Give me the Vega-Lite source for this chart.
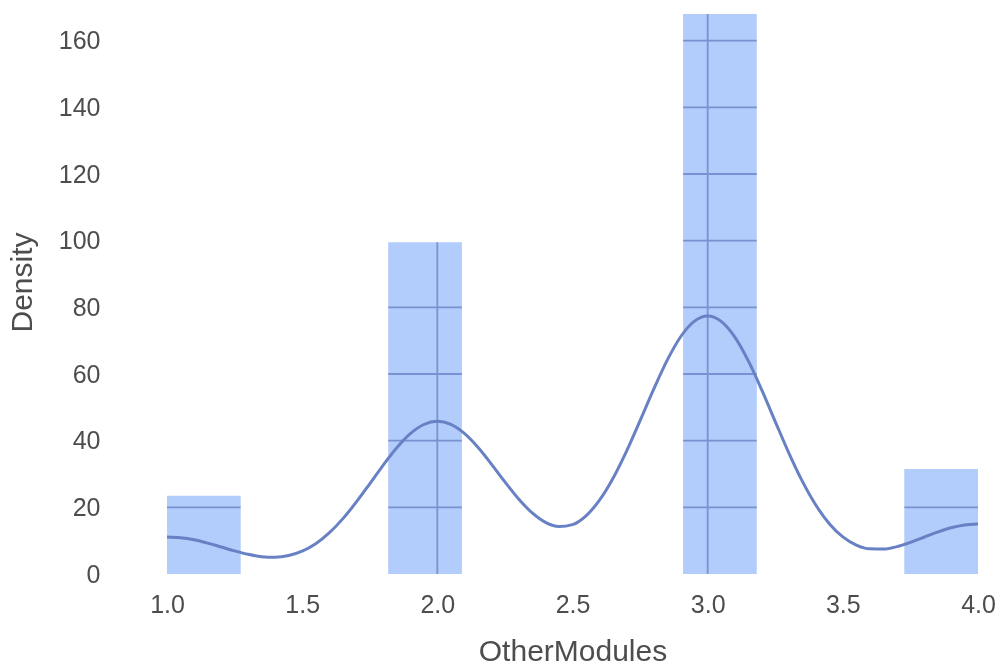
{
  "$schema": "https://vega.github.io/schema/vega-lite/v6.json",
  "width": 811,
  "height": 560,
  "autosize": {"type": "none"},
  "padding": {"left": 167, "top": 14, "right": 25, "bottom": 91},
  "background": "white",
  "config": {
    "view": {"stroke": null, "fill": "white"},
    "axis": {
      "grid": false, "domain": false, "ticks": false, "tickSize": 0,
      "labelFont": "Liberation Sans", "labelFontSize": 25, "labelColor": "#4d4d4d",
      "titleFont": "Liberation Sans", "titleFontSize": 30, "titleFontWeight": "normal", "titleColor": "#4d4d4d"
    }
  },
  "datasets": {
    "bars": [
      {"bin_start": 1.0, "bin_end": 1.2727, "density": 23.5},
      {"bin_start": 1.8182, "bin_end": 2.0909, "density": 99.5},
      {"bin_start": 2.9091, "bin_end": 3.1818, "density": 168},
      {"bin_start": 3.7273, "bin_end": 4.0, "density": 31.5}
    ],
    "hgrid": [{"v": 20}, {"v": 40}, {"v": 60}, {"v": 80}, {"v": 100}, {"v": 120}, {"v": 140}, {"v": 160}],
    "vgrid": [{"v": 2.0, "top": 99.5}, {"v": 3.0, "top": 168}],
    "kde": [
      {"x": 1.00, "y": 11.11}, {"x": 1.05, "y": 10.89}, {"x": 1.10, "y": 10.25}, {"x": 1.15, "y": 9.27},
      {"x": 1.20, "y": 8.11}, {"x": 1.25, "y": 6.93}, {"x": 1.30, "y": 5.90}, {"x": 1.35, "y": 5.21},
      {"x": 1.40, "y": 5.03}, {"x": 1.45, "y": 5.54}, {"x": 1.50, "y": 6.85}, {"x": 1.55, "y": 9.10},
      {"x": 1.60, "y": 12.35}, {"x": 1.65, "y": 16.54}, {"x": 1.70, "y": 21.55}, {"x": 1.75, "y": 27.07},
      {"x": 1.80, "y": 32.69}, {"x": 1.85, "y": 37.87}, {"x": 1.90, "y": 42.09}, {"x": 1.95, "y": 44.85},
      {"x": 2.00, "y": 45.82}, {"x": 2.05, "y": 44.88}, {"x": 2.10, "y": 42.16}, {"x": 2.15, "y": 38.02},
      {"x": 2.20, "y": 32.98}, {"x": 2.25, "y": 27.64}, {"x": 2.30, "y": 22.59}, {"x": 2.35, "y": 18.39},
      {"x": 2.40, "y": 15.49}, {"x": 2.45, "y": 14.22}, {"x": 2.50, "y": 14.83}, {"x": 2.55, "y": 17.47},
      {"x": 2.60, "y": 22.14}, {"x": 2.65, "y": 28.71}, {"x": 2.70, "y": 36.84}, {"x": 2.75, "y": 45.99},
      {"x": 2.80, "y": 55.36}, {"x": 2.85, "y": 64.07}, {"x": 2.90, "y": 71.17}, {"x": 2.95, "y": 75.80},
      {"x": 3.00, "y": 77.41}, {"x": 3.05, "y": 75.79}, {"x": 3.10, "y": 71.14}, {"x": 3.15, "y": 64.00},
      {"x": 3.20, "y": 55.23}, {"x": 3.25, "y": 45.73}, {"x": 3.30, "y": 36.36}, {"x": 3.35, "y": 27.85},
      {"x": 3.40, "y": 20.68}, {"x": 3.45, "y": 15.09}, {"x": 3.50, "y": 11.13}, {"x": 3.55, "y": 8.68},
      {"x": 3.60, "y": 7.54}, {"x": 3.65, "y": 7.48}, {"x": 3.70, "y": 8.22}, {"x": 3.75, "y": 9.50},
      {"x": 3.80, "y": 11.03}, {"x": 3.85, "y": 12.57}, {"x": 3.90, "y": 13.86}, {"x": 3.95, "y": 14.73},
      {"x": 4.00, "y": 15.02}
    ]
  },
  "layer": [
    {
      "data": {"name": "bars"},
      "mark": {"type": "rect", "color": "#b2cdfc"},
      "encoding": {
        "x": {
          "field": "bin_start", "type": "quantitative",
          "scale": {"domain": [1, 4], "nice": false, "zero": false},
          "axis": {"values": [1, 1.5, 2, 2.5, 3, 3.5, 4], "format": ".1f", "labelPadding": 18, "labelFlush": false, "title": "OtherModules", "titlePadding": 19}
        },
        "x2": {"field": "bin_end"},
        "y": {
          "field": "density", "type": "quantitative",
          "scale": {"domain": [0, 168], "nice": false},
          "axis": {"values": [0, 20, 40, 60, 80, 100, 120, 140, 160], "labelPadding": 67, "title": "Density", "titlePadding": 21, "titleY": 268}
        },
        "y2": {"datum": 0}
      }
    },
    {
      "data": {"name": "hgrid"},
      "mark": {"type": "rule", "color": "#917411", "strokeWidth": 1.8, "blend": "color-burn"},
      "encoding": {"y": {"field": "v", "type": "quantitative"}}
    },
    {
      "data": {"name": "vgrid"},
      "mark": {"type": "rule", "color": "#7a92d3", "strokeWidth": 1.8},
      "encoding": {
        "x": {"field": "v", "type": "quantitative"},
        "y": {"field": "top", "type": "quantitative"},
        "y2": {"datum": 0}
      }
    },
    {
      "data": {"name": "kde"},
      "mark": {"type": "line", "color": "#6880c4", "strokeWidth": 3, "interpolate": "monotone"},
      "encoding": {
        "x": {"field": "x", "type": "quantitative"},
        "y": {"field": "y", "type": "quantitative"}
      }
    }
  ]
}
